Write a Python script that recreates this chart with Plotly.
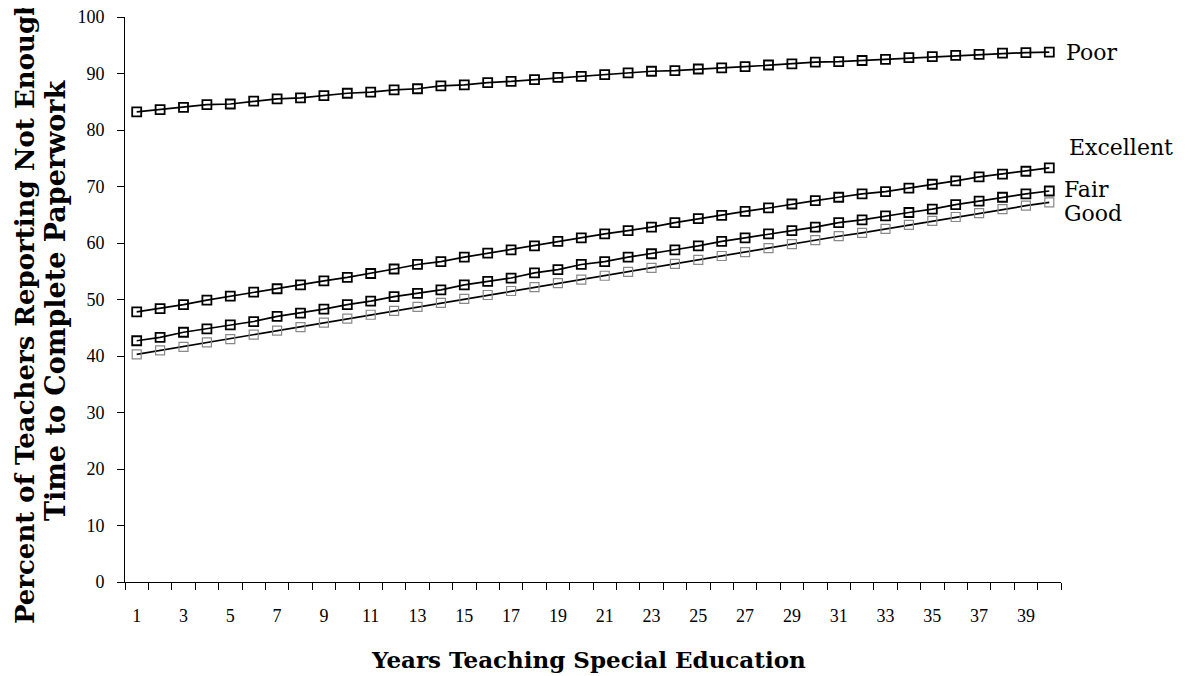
import plotly.graph_objects as go

years = list(range(1, 41))
tick_years = list(range(1, 40, 2))

poor = [83.2, 83.6, 84.0, 84.5, 84.6, 85.1, 85.5, 85.7, 86.1, 86.5,
        86.7, 87.1, 87.3, 87.8, 88.0, 88.4, 88.6, 88.9, 89.3, 89.5,
        89.8, 90.1, 90.4, 90.5, 90.8, 91.0, 91.2, 91.5, 91.7, 92.0,
        92.1, 92.3, 92.5, 92.8, 93.0, 93.2, 93.4, 93.6, 93.7, 93.8]
excellent = [47.8, 48.4, 49.1, 49.9, 50.6, 51.3, 51.9, 52.6, 53.3, 53.9,
             54.6, 55.4, 56.2, 56.7, 57.5, 58.2, 58.8, 59.5, 60.3, 60.9,
             61.6, 62.2, 62.8, 63.6, 64.3, 64.9, 65.6, 66.2, 66.9, 67.5,
             68.1, 68.7, 69.1, 69.7, 70.4, 71.0, 71.7, 72.2, 72.7, 73.3]
fair = [42.7, 43.3, 44.2, 44.8, 45.5, 46.1, 47.0, 47.6, 48.3, 49.1,
        49.7, 50.5, 51.1, 51.7, 52.6, 53.2, 53.8, 54.7, 55.3, 56.2,
        56.7, 57.5, 58.1, 58.8, 59.5, 60.3, 60.9, 61.6, 62.2, 62.8,
        63.6, 64.1, 64.8, 65.4, 66.0, 66.8, 67.4, 68.1, 68.7, 69.2]
good = [40.3, 41.0, 41.6, 42.4, 43.0, 43.8, 44.5, 45.1, 45.9, 46.6,
        47.3, 48.0, 48.7, 49.4, 50.1, 50.8, 51.5, 52.2, 52.9, 53.5,
        54.2, 54.9, 55.6, 56.3, 57.0, 57.7, 58.4, 59.1, 59.8, 60.5,
        61.2, 61.8, 62.5, 63.2, 63.9, 64.6, 65.3, 66.0, 66.6, 67.2]

series = [("Poor", poor), ("Excellent", excellent), ("Fair", fair), ("Good", good)]
label_y = {"Poor": 93.8, "Excellent": 76.9, "Fair": 69.5, "Good": 65.3}
label_shift = {"Poor": 4, "Excellent": 7, "Fair": 2, "Good": 2}

fig = go.Figure()
for name, vals in series:
    is_good = name == "Good"
    fig.add_trace(go.Scatter(
        x=years, y=vals, mode="lines+markers", name=name,
        line=dict(color="black", width=1.7),
        marker=dict(symbol="square-open", size=9,
                    color="#888888" if is_good else "black",
                    line=dict(width=1.2 if is_good else 1.8)),
        showlegend=False, xaxis="x", yaxis="y"))

# invisible trace for label axis
fig.add_trace(go.Scatter(x=[1], y=[0], mode="markers", marker=dict(opacity=0),
                         showlegend=False, hoverinfo="skip", xaxis="x2", yaxis="y"))

tick_font = dict(family="Liberation Serif", size=18, color="black")
fig.update_layout(
    width=1193, height=676,
    margin=dict(l=117, r=140, t=9, b=102, autoexpand=False),
    paper_bgcolor="white", plot_bgcolor="white",
    xaxis=dict(range=[0.5, 40.5], tickmode="array", automargin=False,
               tickvals=[i + 0.5 for i in range(0, 41)], ticktext=[""] * 41,
               ticks="outside", ticklen=7, tickcolor="black", tickwidth=1,
               showline=True, linecolor="black", linewidth=1,
               showgrid=False, zeroline=False),
    xaxis2=dict(range=[0.5, 40.5], overlaying="x", side="bottom", automargin=False,
                tickmode="array", tickvals=tick_years,
                ticktext=[str(v) for v in tick_years],
                ticks="", ticklabelstandoff=21, tickfont=tick_font,
                showline=False, showgrid=False, zeroline=False),
    yaxis=dict(range=[0, 100], tickmode="array", tickvals=list(range(0, 101, 10)),
               automargin=False,
               ticks="outside", ticklen=7, tickcolor="black", tickwidth=1,
               showline=True, linecolor="black", linewidth=1,
               showgrid=False, zeroline=False, tickfont=tick_font,
               ticklabelstandoff=9, ticklabeloverflow="allow"),
)

for name, _ in series:
    fig.add_annotation(x=40.5, y=label_y[name], xref="x", yref="y",
                       text=name, showarrow=False, xanchor="left",
                       xshift=label_shift[name], borderpad=0,
                       font=dict(family="DejaVu Serif", size=22, color="black"))

fig.add_annotation(x=0.4957, y=-0.138, xref="paper", yref="paper",
                   text="<b>Years Teaching Special Education</b>", showarrow=False,
                   xanchor="center", yanchor="middle",
                   font=dict(family="DejaVu Serif", size=23, color="black"))
fig.add_annotation(x=-0.1068, y=0.4796, xref="paper", yref="paper", textangle=-90,
                   text="<b>Percent of Teachers Reporting Not Enough</b>", showarrow=False,
                   xanchor="center", yanchor="middle",
                   font=dict(family="DejaVu Serif", size=26, color="black"))
fig.add_annotation(x=-0.0748, y=0.499, xref="paper", yref="paper", textangle=-90,
                   text="<b>Time to Complete Paperwork</b>", showarrow=False,
                   xanchor="center", yanchor="middle",
                   font=dict(family="DejaVu Serif", size=27, color="black"))

fig.write_html("out.html")
